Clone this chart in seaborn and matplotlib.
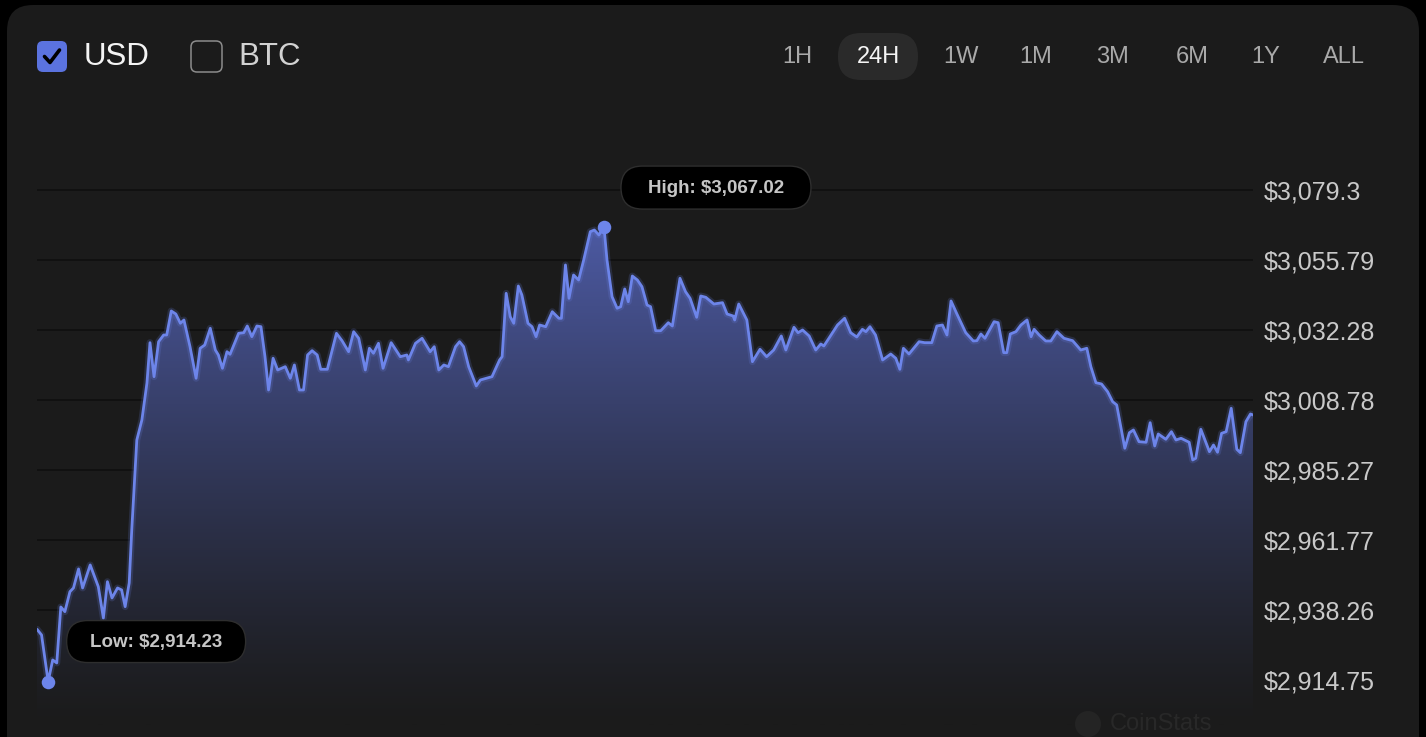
import numpy as np
import pandas as pd
import matplotlib
matplotlib.use("Agg")
import matplotlib.pyplot as plt
import seaborn as sns
from matplotlib.patches import FancyBboxPatch, Circle
from matplotlib.lines import Line2D

# ---------------- data ----------------
hours = [0.00, 0.09, 0.22, 0.31, 0.39, 0.47, 0.55, 0.65, 0.72, 0.82,
         0.90, 1.05, 1.21, 1.31, 1.39, 1.48, 1.59, 1.67, 1.74, 1.82,
         1.87, 1.97, 2.07, 2.17, 2.23, 2.31, 2.40, 2.50, 2.56, 2.65,
         2.74, 2.83, 2.90, 3.02, 3.14, 3.22, 3.31, 3.42, 3.52, 3.58,
         3.66, 3.75, 3.81, 3.98, 4.08, 4.15, 4.24, 4.34, 4.42, 4.50,
         4.57, 4.66, 4.75, 4.90, 5.00, 5.08, 5.18, 5.26, 5.34, 5.43,
         5.53, 5.60, 5.73, 5.91, 6.02, 6.15, 6.25, 6.35, 6.48, 6.56,
         6.64, 6.74, 6.83, 6.99, 7.17, 7.30, 7.33, 7.47, 7.60, 7.76,
         7.84, 7.93, 8.03, 8.12, 8.26, 8.34, 8.42, 8.52, 8.67, 8.75,
         8.98, 9.13, 9.18, 9.26, 9.34, 9.41, 9.50, 9.57, 9.69, 9.77,
         9.85, 9.92, 10.04, 10.17, 10.30, 10.35, 10.43, 10.50, 10.59, 10.69,
         10.79, 10.92, 11.00, 11.09, 11.19, 11.25, 11.35, 11.45, 11.52, 11.60,
         11.67, 11.75, 11.85, 11.94, 12.04, 12.11, 12.21, 12.31, 12.46, 12.54,
         12.69, 12.80, 12.89, 13.02, 13.10, 13.20, 13.36, 13.53, 13.62, 13.74,
         13.77, 13.85, 14.01, 14.12, 14.27, 14.40, 14.54, 14.69, 14.78, 14.94,
         15.02, 15.11, 15.24, 15.37, 15.47, 15.53, 15.63, 15.80, 15.94, 16.06,
         16.18, 16.29, 16.36, 16.44, 16.55, 16.69, 16.85, 16.95, 17.03, 17.10,
         17.21, 17.41, 17.52, 17.66, 17.76, 17.87, 17.96, 18.04, 18.15, 18.33,
         18.48, 18.55, 18.63, 18.71, 18.89, 18.97, 19.08, 19.14, 19.21, 19.32,
         19.42, 19.54, 19.62, 19.68, 19.78, 19.91, 20.01, 20.13, 20.27, 20.44,
         20.60, 20.72, 20.80, 20.90, 21.01, 21.13, 21.23, 21.31, 21.39, 21.47,
         21.56, 21.64, 21.75, 21.89, 21.97, 22.06, 22.13, 22.28, 22.39, 22.48,
         22.58, 22.74, 22.81, 22.87, 22.97, 23.14, 23.22, 23.30, 23.38, 23.47,
         23.57, 23.68, 23.75, 23.86, 23.95, 24.00]

prices = [2931.78, 2929.87, 2914.23, 2921.48, 2920.47, 2939.28, 2937.70, 2944.41, 2945.66, 2952.04,
          2945.66, 2953.38, 2946.09, 2935.58, 2947.77, 2942.30, 2945.66, 2944.99, 2939.38, 2947.34,
          2965.13, 2995.35, 3002.07, 3014.49, 3028.03, 3016.61, 3028.36, 3030.61, 3030.61, 3038.67,
          3037.66, 3034.54, 3035.65, 3026.68, 3016.07, 3026.15, 3027.25, 3032.86, 3025.57, 3023.90,
          3019.43, 3025.00, 3024.13, 3031.18, 3031.38, 3033.63, 3030.04, 3033.63, 3033.40, 3023.32,
          3012.14, 3022.79, 3018.86, 3019.97, 3016.07, 3020.54, 3012.14, 3012.14, 3023.90, 3025.34,
          3023.90, 3019.09, 3019.09, 3031.18, 3028.70, 3025.00, 3031.72, 3029.50, 3018.86, 3026.15,
          3024.47, 3027.82, 3019.43, 3028.03, 3023.32, 3023.90, 3022.22, 3027.82, 3029.50, 3025.00,
          3026.68, 3018.86, 3020.54, 3019.97, 3026.68, 3028.36, 3026.68, 3019.97, 3013.49, 3015.50,
          3016.61, 3022.22, 3023.32, 3044.61, 3036.76, 3034.54, 3047.06, 3044.04, 3034.54, 3033.40,
          3030.04, 3033.97, 3033.40, 3038.43, 3036.22, 3036.22, 3054.12, 3042.93, 3050.76, 3049.08,
          3055.79, 3065.30, 3065.87, 3064.19, 3067.02, 3055.79, 3043.47, 3039.58, 3040.11, 3046.06,
          3041.79, 3050.42, 3049.08, 3046.83, 3040.68, 3040.11, 3032.05, 3032.05, 3034.74, 3033.63,
          3049.65, 3045.15, 3042.93, 3036.55, 3043.71, 3043.27, 3041.02, 3041.46, 3037.66, 3036.99,
          3035.65, 3041.02, 3035.65, 3021.65, 3025.81, 3023.32, 3025.57, 3030.28, 3025.57, 3033.20,
          3031.38, 3032.29, 3030.28, 3025.57, 3027.59, 3026.92, 3029.50, 3033.97, 3036.22, 3031.38,
          3029.94, 3032.52, 3031.72, 3033.40, 3030.61, 3022.22, 3024.23, 3022.79, 3019.09, 3026.15,
          3024.23, 3028.36, 3028.03, 3028.03, 3033.63, 3033.97, 3030.61, 3042.03, 3037.90, 3031.38,
          3028.60, 3028.70, 3030.95, 3029.50, 3035.08, 3034.74, 3024.67, 3024.67, 3030.95, 3031.72,
          3033.97, 3035.65, 3030.04, 3032.52, 3030.61, 3028.60, 3028.60, 3031.72, 3029.50, 3028.70,
          3025.57, 3026.15, 3019.97, 3014.59, 3014.16, 3011.57, 3008.21, 3007.11, 2999.82, 2992.57,
          2997.80, 2998.71, 2994.78, 2994.58, 3001.16, 2993.34, 2997.37, 2995.59, 2998.14, 2995.35,
          2995.92, 2994.58, 2988.64, 2989.21, 2998.95, 2991.42, 2993.67, 2991.22, 2997.60, 2998.14,
          3006.00, 2992.23, 2991.09, 3001.50, 3004.08, 3003.75]

y_ticks = [3079.3, 3055.79, 3032.28, 3008.78, 2985.27, 2961.77, 2938.26, 2914.75]
y_tick_labels = ["$3,079.3", "$3,055.79", "$3,032.28", "$3,008.78",
                 "$2,985.27", "$2,961.77", "$2,938.26", "$2,914.75"]
currencies = ["USD", "BTC"]
currency_checked = [True, False]
ranges = ["1H", "24H", "1W", "1M", "3M", "6M", "1Y", "ALL"]
active_range = "24H"
high_label = "High: $3,067.02"
low_label = "Low: $2,914.23"
watermark = "CoinStats"

# ---------------- style ----------------
W, H = 1426, 737
CARD = "#1b1b1b"
LINE = "#6d85ea"

sns.set_theme(style="dark", rc={"axes.facecolor": CARD, "figure.facecolor": "black"})
plt.rcParams["font.family"] = ["Liberation Sans", "DejaVu Sans"]

fig = plt.figure(figsize=(W / 100, H / 100), dpi=100, facecolor="black")

# background card (pixel coordinates, top-left origin)
bg = fig.add_axes([0, 0, 1, 1], zorder=0)
bg.set_xlim(0, W); bg.set_ylim(H, 0); bg.axis("off")
bg.add_patch(FancyBboxPatch((7, 5), W - 14, H + 80,
                            boxstyle="round,pad=0,rounding_size=26",
                            fc=CARD, ec="none"))

# ---------------- main chart ----------------
ylo, yhi = 2901.32, 3092.73
ax = fig.add_axes([37 / W, 1 - 725 / H, (1253 - 37) / W, (725 - 150) / H], zorder=1)
ax.patch.set_alpha(0)
# keep the pixel scale: 3079.3 at y=190 and 2914.75 at y=680
px_per_unit = 490 / (3079.3 - 2914.75)
yhi = 3079.3 + 40 / px_per_unit
ylo = 2914.75 - 45 / px_per_unit

df = pd.DataFrame({"hours": hours, "price": prices})

# opaque gradient area under the line (hides gridlines like the original)
poly = ax.fill_between(df["hours"], df["price"], ylo, color="none", lw=0)
n = 256
a = np.linspace(0.0, 1.0, n) ** 1.2 * 0.80
card_rgb = np.array([27, 27, 27]) / 255
blue_rgb = np.array([100, 120, 228]) / 255
grad = np.ones((n, 1, 4))
for c in range(3):
    grad[:, 0, c] = card_rgb[c] * (1 - a) + blue_rgb[c] * a
im = ax.imshow(grad, extent=[0, 24, ylo, yhi], origin="lower", aspect="auto",
               zorder=2, interpolation="bilinear")
im.set_clip_path(poly.get_paths()[0], transform=ax.transData)

# glow + line
sns.lineplot(data=df, x="hours", y="price", ax=ax, color=LINE, lw=5, alpha=0.18,
             zorder=3, legend=False)
sns.lineplot(data=df, x="hours", y="price", ax=ax, color=LINE, lw=2.0,
             zorder=4, legend=False)

i_hi = int(np.argmax(prices)); i_lo = int(np.argmin(prices))
ax.scatter([hours[i_hi], hours[i_lo]], [prices[i_hi], prices[i_lo]],
           s=95, color=LINE, zorder=5, linewidths=0)

ax.set_xlim(0, 24)
ax.set_ylim(ylo, yhi)
ax.set_yticks(y_ticks)
ax.set_yticklabels(y_tick_labels)
ax.yaxis.tick_right()
ax.set_xticks([])
ax.set_xlabel(""); ax.set_ylabel("")
ax.tick_params(axis="y", length=0, pad=8, labelsize=18, labelcolor="#c9c9c9")
ax.grid(axis="y", color="#0f0f0f", lw=1.2)
ax.grid(axis="x", visible=False)
ax.set_axisbelow(True)
for s in ax.spines.values():
    s.set_visible(False)

# ---------------- overlay (header, tooltips, watermark) ----------------
ov = fig.add_axes([0, 0, 1, 1], zorder=3)
ov.set_xlim(0, W); ov.set_ylim(H, 0); ov.axis("off"); ov.patch.set_alpha(0)

# currency checkboxes
box_x = [37, 191]
text_x = [84, 238]
for cur, chk, bx, tx in zip(currencies, currency_checked, box_x, text_x):
    if chk:
        ov.add_patch(FancyBboxPatch((bx, 41), 30, 31, boxstyle="round,pad=0,rounding_size=6",
                                    fc="#5b73df", ec="none"))
        ov.add_line(Line2D([bx + 7.5, bx + 13, bx + 22.5], [56.5, 62.5, 50],
                           color="black", lw=2.6, solid_capstyle="round",
                           solid_joinstyle="round"))
        col = "#f4f4f4"
    else:
        ov.add_patch(FancyBboxPatch((bx, 41), 31, 31, boxstyle="round,pad=0,rounding_size=6",
                                    fc="none", ec="#8c8c8c", lw=1.1))
        col = "#d2d2d2"
    ov.text(tx, 57, cur, color=col, fontsize=22.5, ha="left", va="center")

# time-range buttons
range_x = [797, 878, 961, 1036, 1113, 1192, 1266, 1344]
for lab, rx in zip(ranges, range_x):
    if lab == active_range:
        ov.add_patch(FancyBboxPatch((rx - 40, 33), 80, 47,
                                    boxstyle="round,pad=0,rounding_size=23",
                                    fc="#2a2a2a", ec="none"))
        col = "#f5f5f5"
    else:
        col = "#a9a9a9"
    ov.text(rx, 57, lab, color=col, fontsize=17, ha="center", va="center")

# tooltips anchored to the high / low points
def to_px(x, y):
    dx, dy = ax.transData.transform((x, y))
    return dx, H - dy

for idx, lab, (ox, oy), (bw, bh) in [(i_hi, high_label, (112, -39), (190, 43)),
                                      (i_lo, low_label, (108, -40), (179, 42))]:
    mx, my = to_px(hours[idx], prices[idx])
    cx, cy = mx + ox, my + oy
    ov.add_patch(FancyBboxPatch((cx - bw / 2, cy - bh / 2), bw, bh,
                                boxstyle=f"round,pad=0,rounding_size={bh / 2}",
                                fc="black", ec="#2e2e2e", lw=1.0))
    ov.text(cx, cy + 0.5, lab, color="#c6c6c6", fontsize=13.5, fontweight="bold",
            ha="center", va="center")

# watermark
ov.add_patch(Circle((1088, 724), 13, fc="#242424", ec="none"))
ov.text(1110, 724, watermark, color="#282828", fontsize=17, ha="left", va="center")

fig.savefig("out.png", dpi=100, facecolor="black")
